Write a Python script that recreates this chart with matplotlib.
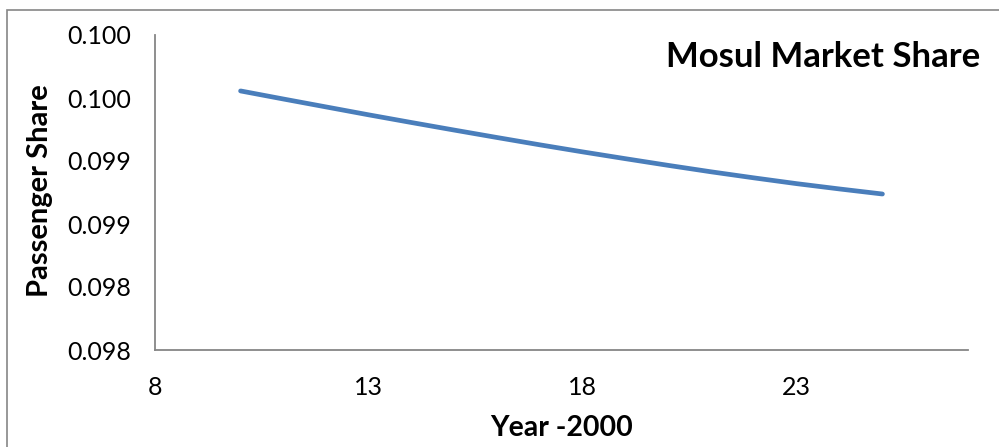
import matplotlib.pyplot as plt
from matplotlib.patches import Rectangle

# passenger share of Mosul airport, by year offset from 2000
years = [10, 11, 12, 13, 14, 15, 16, 17, 18, 19, 20, 21, 22, 23, 24, 25]
share = [0.100056, 0.099992, 0.099929, 0.099866, 0.099805, 0.099745,
         0.099686, 0.099628, 0.099572, 0.099518, 0.099465, 0.099414,
         0.099366, 0.099320, 0.099278, 0.099238]

x_ticks = [8, 13, 18, 23]
y_ticks = [0.0980, 0.0985, 0.0990, 0.0995, 0.1000, 0.1005]
y_labels = ['0.098', '0.098', '0.099', '0.099', '0.100', '0.100']

plt.rcParams['font.family'] = ['Lato', 'DejaVu Sans']

W, H = 999, 447
fig = plt.figure(figsize=(W / 100, H / 100), dpi=100)
ax = fig.add_axes([155 / W, 97 / H, 813 / W, 315 / H])

ax.plot(years, share, color='#4A7EBB', linewidth=3.4, solid_capstyle='round')

ax.set_xlim(8, 27)
ax.set_ylim(0.0980, 0.1005)
ax.set_xticks(x_ticks)
ax.set_yticks(y_ticks)
ax.set_yticklabels(y_labels)
ax.tick_params(axis='both', length=0, labelsize=18)
ax.tick_params(axis='y', pad=17)
ax.tick_params(axis='x', pad=19)

for s in ['top', 'right']:
    ax.spines[s].set_visible(False)
for s in ['left', 'bottom']:
    ax.spines[s].set_color('#868686')
    ax.spines[s].set_linewidth(1.3)

ax.set_xlabel('Year -2000', fontsize=20.5, fontweight='bold', va='center')
ax.set_ylabel('Passenger Share', fontsize=21, fontweight='bold', va='center')
ax.xaxis.set_label_coords(0.5, -(428 - 350) / 315)
ax.yaxis.set_label_coords(-(155 - 40) / 813, (350 - 191) / 315)

fig.text(980 / W, 1 - 57 / H, 'Mosul Market Share', ha='right', va='center',
         fontsize=25, fontweight='bold')

# chart area border
fig.patches.append(Rectangle((7 / W, -0.05), 1.2, 1 - 10 / H + 0.05,
                             transform=fig.transFigure, fill=False,
                             edgecolor='#868686', linewidth=1.2))

fig.savefig('out.png', dpi=100)
